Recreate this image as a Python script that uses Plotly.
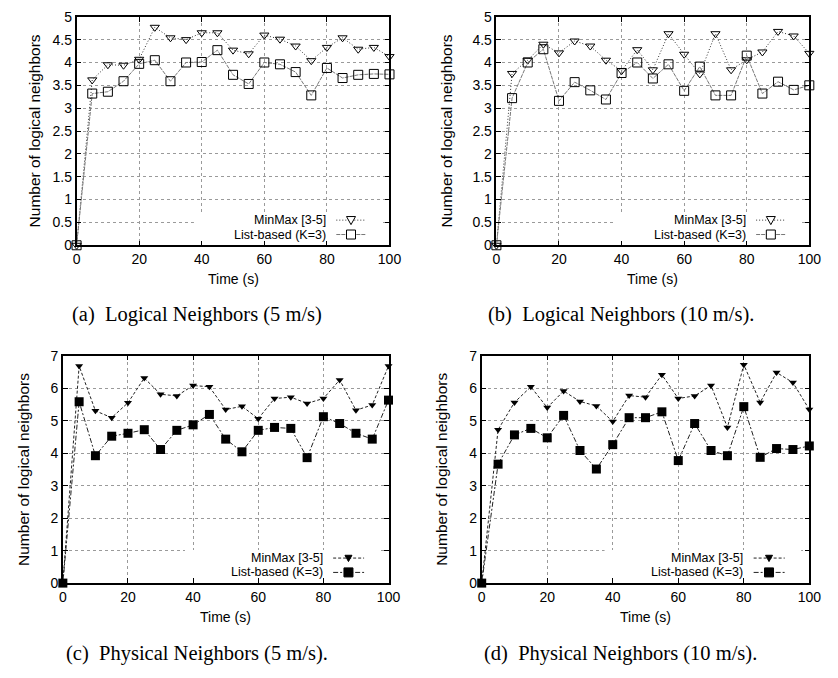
import plotly.graph_objects as go

W, H = 838, 678

time_s = [0, 5, 10, 15, 20, 25, 30, 35, 40, 45, 50, 55, 60, 65, 70, 75, 80, 85, 90, 95, 100]

# (a) Logical neighbors, 5 m/s
a_minmax = [0, 3.62, 3.95, 3.94, 4.07, 4.77, 4.54, 4.50, 4.65, 4.65, 4.27, 4.19, 4.60, 4.51, 4.36, 4.04, 4.33, 4.54, 4.29, 4.33, 4.13]
a_list = [0, 3.32, 3.36, 3.59, 3.97, 4.05, 3.59, 4.00, 4.01, 4.27, 3.73, 3.53, 4.00, 3.96, 3.79, 3.28, 3.88, 3.66, 3.73, 3.75, 3.74]
# (b) Logical neighbors, 10 m/s
b_minmax = [0, 3.76, 4.05, 4.40, 4.21, 4.47, 4.36, 4.05, 3.82, 4.28, 3.84, 4.63, 4.18, 3.75, 4.63, 3.84, 4.06, 4.23, 4.68, 4.58, 4.20]
b_list = [0, 3.22, 4.00, 4.29, 3.16, 3.57, 3.39, 3.19, 3.77, 4.00, 3.65, 3.96, 3.38, 3.91, 3.28, 3.28, 4.15, 3.32, 3.58, 3.40, 3.50]
# (c) Physical neighbors, 5 m/s
c_minmax = [0, 6.68, 5.30, 5.09, 5.55, 6.31, 5.81, 5.76, 6.08, 6.04, 5.34, 5.44, 5.06, 5.68, 5.72, 5.53, 5.68, 6.25, 5.32, 5.48, 6.68]
c_list = [0, 5.58, 3.92, 4.52, 4.61, 4.72, 4.11, 4.70, 4.87, 5.19, 4.43, 4.04, 4.70, 4.79, 4.76, 3.86, 5.12, 4.91, 4.61, 4.43, 5.63]
# (d) Physical neighbors, 10 m/s
d_minmax = [0, 4.72, 5.56, 6.04, 5.40, 5.91, 5.59, 5.45, 4.97, 5.77, 5.72, 6.41, 5.68, 5.76, 6.08, 4.79, 6.72, 5.56, 6.48, 6.17, 5.34]
d_list = [0, 3.66, 4.56, 4.76, 4.47, 5.16, 4.08, 3.51, 4.26, 5.09, 5.09, 5.27, 3.77, 4.91, 4.08, 3.92, 5.43, 3.87, 4.14, 4.11, 4.22]

series_names = ["MinMax [3-5]", "List-based (K=3)"]
captions = ["(a)\u00a0 Logical Neighbors (5 m/s)", "(b)\u00a0 Logical Neighbors (10 m/s).",
            "(c)\u00a0 Physical Neighbors (5 m/s).", "(d)\u00a0 Physical Neighbors (10 m/s)."]
x_title = "Time (s)"
y_title = "Number of logical neighbors"

# panel pixel boxes: left, right, top, bottom
boxes = [(74, 393, 9, 243), (502, 821, 9, 243), (60, 392, 356, 589), (487, 821, 356, 589)]
caption_pos = [(197, 314), (629, 314), (197, 661), (628, 661)]
ytitle_x = [31, 451, 20, 446]
yranges = [(0, 5, 0.5), (0, 5, 0.5), (0, 7, 1), (0, 7, 1)]

data = [(a_minmax, a_list), (b_minmax, b_list), (c_minmax, c_list), (d_minmax, d_list)]

fig = go.Figure()
SANS = "Liberation Sans, Arial, sans-serif"
SERIF = "Liberation Serif, Times New Roman, serif"

annotations = []
shapes = []
for i, ((mm, lb), (l, r, t, b)) in enumerate(zip(data, boxes)):
    xa = "x" if i == 0 else f"x{i+1}"
    ya = "y" if i == 0 else f"y{i+1}"
    filled = i >= 2
    if filled:
        mm_line = dict(color="#222222", width=1, dash="3px,2px")
        lb_line = dict(color="#222222", width=1, dash="5px,2px,2px,2px")
        mm_marker = dict(symbol="triangle-down", size=7, color="black")
        lb_marker = dict(symbol="square", size=9, color="black")
    else:
        mm_line = dict(color="#333333", width=1, dash="1px,2px")
        lb_line = dict(color="#777777", width=1, dash="4px,1px")
        mm_marker = dict(symbol="triangle-down-open", size=8, color="black", line=dict(width=1))
        lb_marker = dict(symbol="square-open", size=9, color="black", line=dict(width=1))
    fig.add_trace(go.Scatter(x=time_s, y=mm, mode="lines+markers", line=mm_line, marker=mm_marker,
                             name=series_names[0], xaxis=xa, yaxis=ya, cliponaxis=False, showlegend=False))
    fig.add_trace(go.Scatter(x=time_s, y=lb, mode="lines+markers", line=lb_line, marker=lb_marker,
                             name=series_names[1], xaxis=xa, yaxis=ya, cliponaxis=False, showlegend=False))

    y0, y1, dy = yranges[i]
    axis_common = dict(showline=True, linecolor="black", linewidth=1.5, mirror="ticks",
                       ticks="inside", ticklen=5, tickcolor="black", tickwidth=1,
                       showgrid=True, gridcolor="#9a9a9a", griddash="dot", gridwidth=1,
                       zeroline=False, tickfont=dict(family=SANS, size=14, color="black"))
    fig.update_layout(**{
        ("xaxis" if i == 0 else f"xaxis{i+1}"): dict(
            domain=[l / W, r / W], range=[0, 100], dtick=20, tick0=0, anchor=ya, **axis_common),
        ("yaxis" if i == 0 else f"yaxis{i+1}"): dict(
            domain=[1 - b / H, 1 - t / H], range=[y0, y1], dtick=dy, tick0=0, anchor=xa, **axis_common),
    })

    xd = f"{xa} domain"
    yd = f"{ya} domain"
    # white legend background (hides grid lines, sits under the traces)
    shapes.append(dict(type="rect", xref=xa, yref=ya, x0=37.5, x1=97.5, y0=0.0, y1=0.145 * y1,
                       fillcolor="white", line=dict(width=0), layer="between"))
    rows = [0.110, 0.047]
    for k, (name, ln, mk) in enumerate(zip(series_names, [mm_line, lb_line], [mm_marker, lb_marker])):
        yy = rows[k]
        annotations.append(dict(xref=xd, yref=yd, x=0.805, y=yy, text=name, showarrow=False,
                                xanchor="right", yanchor="middle",
                                font=dict(family=SANS, size=12.5, color="black")))
        shapes.append(dict(type="line", xref=xd, yref=yd, x0=0.83, x1=0.925, y0=yy, y1=yy,
                           line=dict(color=ln["color"], width=1, dash=ln["dash"]), layer="above"))
        if k == 0:
            s = 3.5 if filled else 4.5
            path = f"M{-s},{s*0.8} L{s},{s*0.8} L0,{-s} Z"
        else:
            s = 4.5
            path = f"M{-s},{-s} L{s},{-s} L{s},{s} L{-s},{s} Z"
        shapes.append(dict(type="path", xref=xd, yref=yd, xsizemode="pixel", ysizemode="pixel",
                           xanchor=0.877, yanchor=yy, path=path,
                           fillcolor="black" if filled else "white",
                           line=dict(color="black", width=1), layer="above"))

    # axis titles
    annotations.append(dict(xref="paper", yref="paper", x=((l + r) / 2) / W, y=1 - (b + 35) / H,
                            text=x_title, showarrow=False, xanchor="center", yanchor="middle",
                            font=dict(family=SANS, size=14, color="black")))
    annotations.append(dict(xref="paper", yref="paper", x=ytitle_x[i] / W, y=1 - ((t + b) / 2) / H,
                            text=y_title, showarrow=False, textangle=-90, xanchor="center", yanchor="middle",
                            font=dict(family=SANS, size=15.5, color="black")))
    cx, cy = caption_pos[i]
    annotations.append(dict(xref="paper", yref="paper", x=cx / W, y=1 - cy / H,
                            text=captions[i], showarrow=False, xanchor="center", yanchor="middle",
                            font=dict(family=SERIF, size=20.5, color="black")))

fig.update_layout(width=W, height=H, margin=dict(l=0, r=0, t=0, b=0),
                  paper_bgcolor="white", plot_bgcolor="white",
                  annotations=annotations, shapes=shapes, showlegend=False)

fig.write_html("out.html")
